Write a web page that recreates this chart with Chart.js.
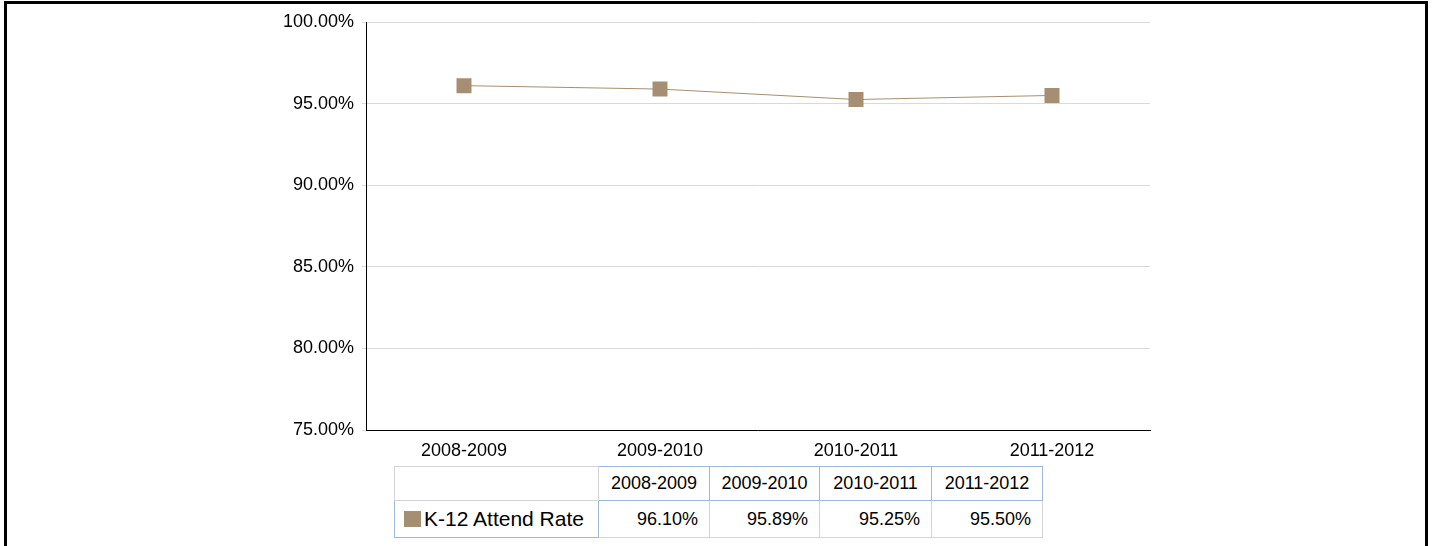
<!DOCTYPE html>
<html>
<head>
<meta charset="utf-8">
<script src="https://cdn.jsdelivr.net/npm/chart.js@4/dist/chart.umd.min.js"></script>
<style>
  html, body { margin: 0; padding: 0; background: #fff; overflow: hidden; }
  body { width: 1432px; height: 546px; position: relative; font-family: "Liberation Sans", Arial, sans-serif; }
  #frame { position: absolute; left: 4px; top: 1px; width: 1418px; height: 700px; border: 3px solid #000; box-sizing: content-box; }
  #chart { position: absolute; left: 0; top: 0; }
  #dataTable { position: absolute; left: 394px; top: 466px; width: 648px; table-layout: fixed; border-collapse: collapse; font-size: 18px; color: #000; }
  #dataTable td { border: 1px solid #d4d4d4; padding: 0 11px; white-space: nowrap; overflow: visible; }
  #dataTable tr.head td { height: 33px; text-align: center; padding: 0; }
  #dataTable tr.head td.year { border: 1px solid #9db8d8; }
  #dataTable tr.vals td { height: 36px; text-align: right; }
  #dataTable tr.vals td.name { text-align: left; padding-left: 9px; font-size: 21px; border-left-color: #9db8d8; border-bottom-color: #9db8d8; border-right-color: #9db8d8; }
  .swatch { display: inline-block; width: 17px; height: 16px; vertical-align: -1px; margin-right: 3px; }
</style>
</head>
<body>
<div id="frame"></div>
<canvas id="chart" width="1432" height="460"></canvas>
<table id="dataTable">
  <colgroup><col style="width:204px"><col style="width:111px"><col style="width:110px"><col style="width:112px"><col style="width:111px"></colgroup>
</table>
<script>
// School years shown along the bottom axis
const categories = ['2008-2009', '2009-2010', '2010-2011', '2011-2012'];
// K-12 attendance rate, percent
const seriesName = 'K-12 Attend Rate';
const attendRate = [96.10, 95.89, 95.25, 95.50];
// Value axis ticks, percent
const yTicks = [75, 80, 85, 90, 95, 100];

const seriesColor = '#a68e72';
const font = { family: '"Liberation Sans", Arial, sans-serif', size: 18 };

new Chart(document.getElementById('chart'), {
  type: 'line',
  data: {
    labels: categories,
    datasets: [{
      label: seriesName,
      data: attendRate,
      borderColor: seriesColor,
      backgroundColor: seriesColor,
      borderWidth: 1,
      pointStyle: 'rect',
      pointRadius: 10.6,
      pointHoverRadius: 10.6,
      pointBorderWidth: 0,
      pointBackgroundColor: seriesColor,
      tension: 0,
      fill: false
    }]
  },
  options: {
    responsive: false,
    animation: false,
    devicePixelRatio: 1,
    layout: { padding: { left: 0, right: 282, top: 22, bottom: 0 } },
    plugins: { legend: { display: false }, tooltip: { enabled: false } },
    scales: {
      x: {
        offset: true,
        grid: { display: false, drawTicks: false },
        border: { display: true, color: '#000', width: 1 },
        ticks: { color: '#000', font: font, padding: 10, maxRotation: 0 },
        afterFit(scale) { scale.height = 30; }
      },
      y: {
        min: yTicks[0],
        max: yTicks[yTicks.length - 1],
        afterBuildTicks(scale) { scale.ticks = yTicks.map(v => ({ value: v })); },
        grid: { color: '#d9d9d9', lineWidth: 1, tickLength: 4, drawTicks: true },
        border: { display: true, color: '#000', width: 1 },
        ticks: { color: '#000', font: font, padding: 8, callback: v => v.toFixed(2) + '%' },
        afterFit(scale) { scale.width = 366; }
      }
    }
  }
});

// Data table under the chart
const table = document.getElementById('dataTable');
const head = document.createElement('tr');
head.className = 'head';
head.appendChild(document.createElement('td'));
categories.forEach(c => {
  const td = document.createElement('td');
  td.className = 'year';
  td.textContent = c;
  head.appendChild(td);
});
table.appendChild(head);
const row = document.createElement('tr');
row.className = 'vals';
const nameCell = document.createElement('td');
nameCell.className = 'name';
const sw = document.createElement('span');
sw.className = 'swatch';
sw.style.background = seriesColor;
nameCell.appendChild(sw);
nameCell.appendChild(document.createTextNode(seriesName));
row.appendChild(nameCell);
attendRate.forEach(v => {
  const td = document.createElement('td');
  td.textContent = v.toFixed(2) + '%';
  row.appendChild(td);
});
table.appendChild(row);
</script>
</body>
</html>
